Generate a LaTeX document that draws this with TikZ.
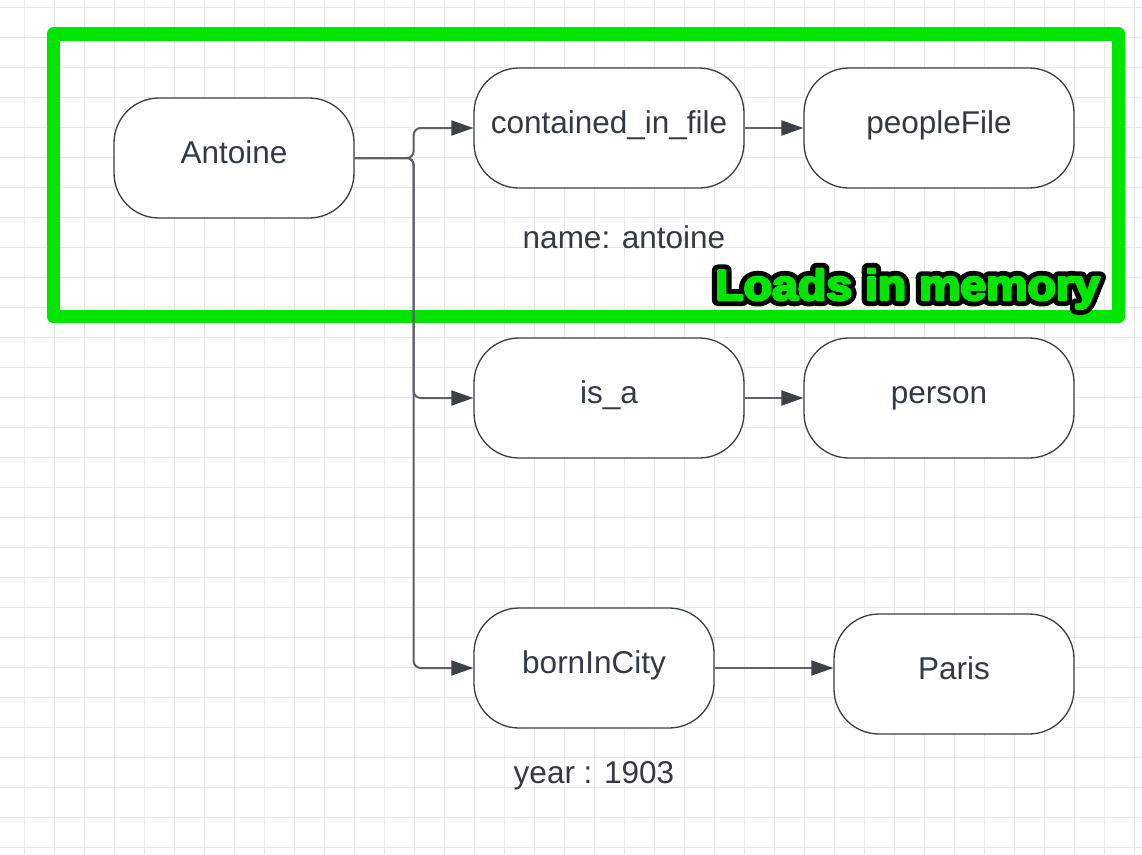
\documentclass[tikz,border=0pt]{standalone}
\usepackage{fontspec}
\setmainfont{Liberation Sans}
\usetikzlibrary{arrows.meta}
\definecolor{gridc}{HTML}{E8E8E8}
\definecolor{nodeb}{HTML}{3A3F47}
\definecolor{txt}{HTML}{333A42}
\definecolor{linec}{HTML}{5E6168}
\definecolor{tipc}{HTML}{3A4149}
\definecolor{memgreen}{HTML}{00E600}
% text drawn with fill and stroke (PDF text render mode 2)
\newcommand\strokedtxt[2]{\special{pdf:literal direct 2 Tr #1 w 1 j}\scalebox{1.08}[1]{\fontsize{43}{48}\selectfont\bfseries #2}\special{pdf:literal direct 0 Tr}}
\tikzset{
  pill/.style={draw=nodeb, line width=1.3pt, fill=white, rounded corners=45pt,
    minimum height=120pt, text=txt, font=\fontsize{31.5}{36}\selectfont,
    text height=22.5pt, text depth=12pt, inner sep=0pt},
  conn/.style={draw=linec, line width=2pt, rounded corners=7pt,
    -{Triangle[length=22pt,width=15pt,color=tipc,fill=tipc]}},
  lbl/.style={text=txt, font=\fontsize{31.5}{36}\selectfont, anchor=base, inner sep=0pt},
  gridline/.style={draw=gridc, line width=1pt},
  frame/.style={draw=memgreen, line width=13.5pt, line join=round},
  outl/.style={anchor=base east, inner sep=0pt},
}
\begin{document}
\begin{tikzpicture}[x=1pt,y=-1pt]
\useasboundingbox (0,0) rectangle (1142,854);
\fill[white] (0,0) rectangle (1142,854);
% grid
\foreach \i in {0,...,37} \draw[gridline] ({24.3+30*\i},0) -- ({24.3+30*\i},854);
\foreach \j in {0,...,28} \draw[gridline] (0,{7.3+30*\j}) -- (1142,{7.3+30*\j});
% frame
\draw[frame] (53.5,34) rectangle (1118.5,316.5);
% nodes
\node[pill, minimum width=240pt] (antoine) at (234,158) {Antoine};
\node[pill, minimum width=270pt] (cif) at (609,128) {contained\_in\_file};
\node[pill, minimum width=270pt] (pf) at (939,128) {peopleFile};
\node[pill, minimum width=270pt] (isa) at (609,398) {is\_a};
\node[pill, minimum width=270pt] (person) at (939,398) {person};
\node[pill, minimum width=240pt] (born) at (594,668) {bornInCity};
\node[pill, minimum width=240pt] (paris) at (954,674) {Paris};
% connectors
\draw[conn] (antoine.east) -- ++(59,0) |- (cif.west);
\draw[conn] (antoine.east) -- ++(59,0) |- (isa.west);
\draw[conn] (antoine.east) -- ++(59,0) |- (born.west);
\draw[conn] (cif) -- (pf);
\draw[conn] (isa) -- (person);
\draw[conn] (born.east) -- (born.east -| paris.west);
% labels
\node[lbl] (namelbl) at (624,248.3) {name: antoine};
\node[lbl] (yearlbl) at (594,783.3) {year : 1903};
% Loads in memory: black outline under green emboldened text
\coordinate (loadsat) at (1100,300);
\node[outl, text=black] (loadsout) at (loadsat) {\special{pdf:literal direct 0 0 0 RG}\strokedtxt{12}{Loads in memory}};
\node[outl, text=memgreen] (loads) at (loadsat) {\special{pdf:literal direct 0 0.902 0 RG}\strokedtxt{2.5}{Loads in memory}};
\end{tikzpicture}
\end{document}
